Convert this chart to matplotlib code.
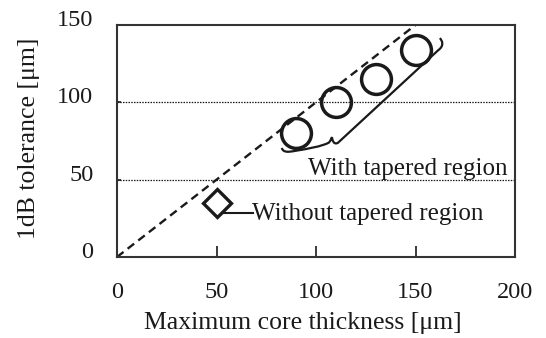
import matplotlib
matplotlib.use("Agg")
import matplotlib.pyplot as plt
from matplotlib.path import Path
from matplotlib.patches import PathPatch
from matplotlib.transforms import ScaledTranslation
import numpy as np

# Data
tapered_x = [90, 110, 130, 150]
tapered_y = [80, 100, 115, 134]
untapered_x = [50]
untapered_y = [35]
ref_line_x = [0, 150]
ref_line_y = [0, 150]
xticks = [0, 50, 100, 150, 200]
yticks = [0, 50, 100, 150]
grid_levels = [50, 100]

plt.rcParams['font.family'] = ['Liberation Serif', 'DejaVu Serif']

fig = plt.figure(figsize=(5.46, 3.38), dpi=100)
ax = fig.add_axes([117/546, 1-257/338, 398/546, 232/338])
ink = '#1a1a1a'

for g in grid_levels:
    ax.axhline(g, color=ink, lw=0.9, ls=(0, (1.2, 1.0)), zorder=1)

ax.plot(ref_line_x, ref_line_y, color=ink, lw=1.7, ls=(0, (3.5, 2.2)), zorder=2)

ax.plot(tapered_x, tapered_y, ls='none', marker='o', ms=21.5, mfc='none',
        mec=ink, mew=2.5, zorder=3)
ax.plot(untapered_x, untapered_y, ls='none', marker='D', ms=14.5, mfc='none',
        mec=ink, mew=2.4, zorder=3)

# Curly brace around tapered points
verts = [(82.8, 70.5), (83.5, 67.5), (86, 67.8), (89, 68.5),
         (96, 70.0), (103, 71.5), (106.5, 74.0),
         (107.5, 75.5), (107.8, 77.0), (108.0, 77.5),
         (108.3, 75.0), (109.0, 72.5), (111.0, 73.8),
         (161.5, 133.8),
         (164.5, 136.5), (163.5, 140.0), (162.2, 141.5)]
codes = [Path.MOVETO, Path.CURVE4, Path.CURVE4, Path.CURVE4,
         Path.CURVE4, Path.CURVE4, Path.CURVE4,
         Path.CURVE4, Path.CURVE4, Path.CURVE4,
         Path.CURVE4, Path.CURVE4, Path.CURVE4,
         Path.LINETO,
         Path.CURVE4, Path.CURVE4, Path.CURVE4]
ax.add_patch(PathPatch(Path(verts, codes), fill=False, ec=ink, lw=1.6, zorder=3))

ax.text(96, 57, 'With tapered region', fontsize=18, color=ink, va='center', ha='left')
ax.plot([53, 68.5], [28.3, 28.3], color=ink, lw=1.5, zorder=3)
ax.text(68.0, 27.5, 'Without tapered region', fontsize=18, color=ink, va='center', ha='left')

ax.set_xlim(0, 200)
ax.set_ylim(0, 150)
ax.set_xticks(xticks)
ax.set_yticks(yticks)
ax.tick_params(axis='x', direction='in', length=8, width=1.2, colors=ink,
               labelsize=17.5, pad=18)
ax.tick_params(axis='y', direction='in', length=3, width=1.2, colors=ink,
               labelsize=17.5, pad=17)
shift = ScaledTranslation(0, 0.07, fig.dpi_scale_trans)
for lbl in ax.get_yticklabels():
    lbl.set_transform(lbl.get_transform() + shift)
for s in ax.spines.values():
    s.set_linewidth(1.5)
    s.set_color('#333333')

ax.set_xlabel('Maximum core thickness [μm]', fontsize=18.5, color=ink)
ax.xaxis.set_label_coords(0.466, -0.235)
ax.set_ylabel('1dB tolerance [μm]', fontsize=18.5, color=ink)
ax.yaxis.set_label_coords(-0.193, 0.51)

fig.savefig('out.png', dpi=100)
